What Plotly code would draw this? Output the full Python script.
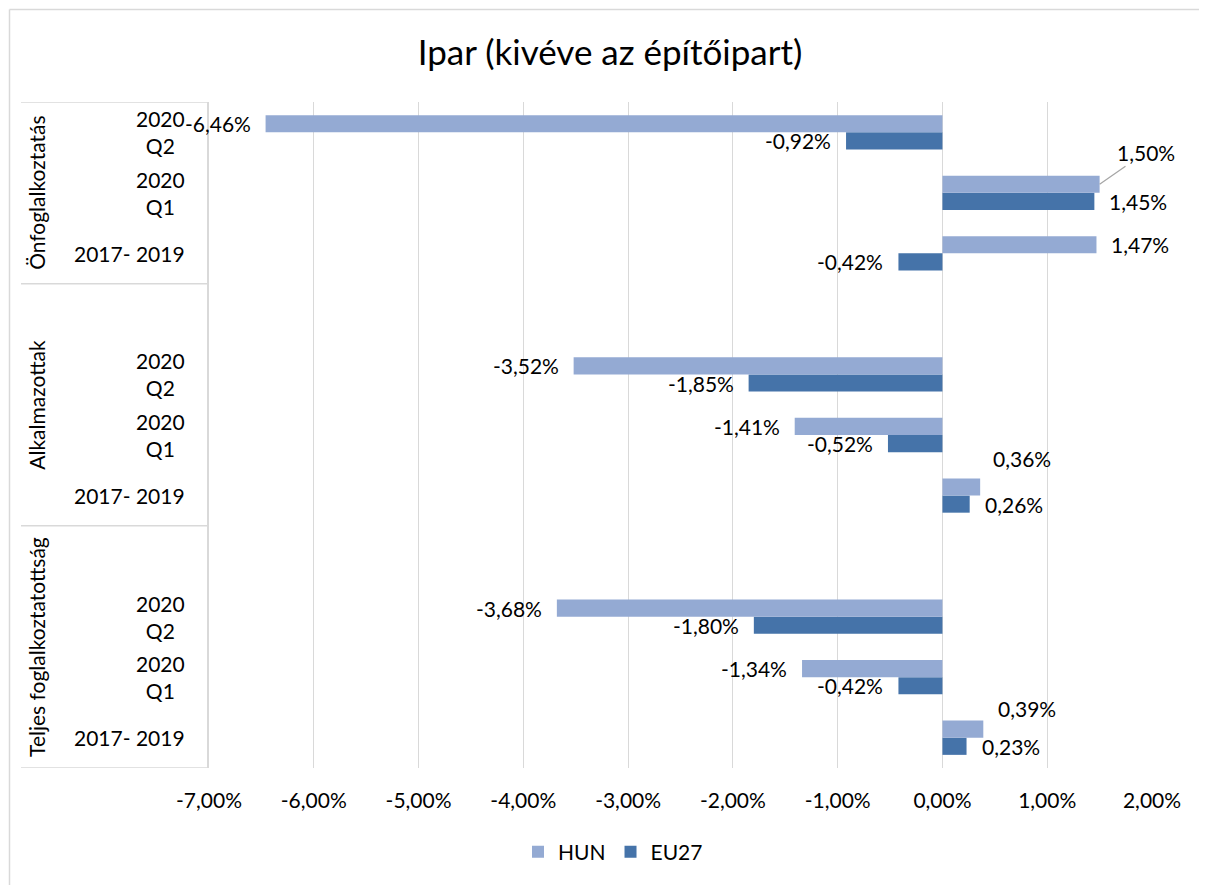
import plotly.graph_objects as go

# ---------------- data ----------------
groups = ["Teljes foglalkoztatottság", "Alkalmazottak", "Önfoglalkoztatás"]
periods = ["2017- 2019", "2020<br>Q1", "2020<br>Q2"]

# values in percent, order per group: 2017-2019, 2020 Q1, 2020 Q2
hun_teljes = [0.39, -1.34, -3.68]
eu_teljes = [0.23, -0.42, -1.80]
hun_alk = [0.36, -1.41, -3.52]
eu_alk = [0.26, -0.52, -1.85]
hun_onf = [1.47, 1.50, -6.46]
eu_onf = [-0.42, 1.45, -0.92]

x_ticks = [-7, -6, -5, -4, -3, -2, -1, 0, 1, 2]
x_ticktext = ["-7,00%", "-6,00%", "-5,00%", "-4,00%", "-3,00%",
              "-2,00%", "-1,00%", "0,00%", "1,00%", "2,00%"]

hun_vals = [hun_teljes, hun_alk, hun_onf]
eu_vals = [eu_teljes, eu_alk, eu_onf]

# ---------------- layout helpers ----------------
OFF = 8                                # page body margin
W, H = 1207 - OFF, 885 - OFF
PL, PR, PT, PB = 209, 1152, 102, 768   # plot area in page px
SLOTS_PER_GROUP = 4                    # 3 periods + 1 spacer
BW = 0.283

def px_x(p):   # page pixel -> paper x
    return (p - PL) / (PR - PL)

def px_y(p):   # page pixel -> paper y
    return (PB - p) / (PB - PT)

# category positions on the y axis
pos = [[g * SLOTS_PER_GROUP + i for i in range(len(periods))] for g in range(len(groups))]
ys = [y for row in pos for y in row]
hun_x = [v for row in hun_vals for v in row]
eu_x = [v for row in eu_vals for v in row]
TOP = len(groups) * SLOTS_PER_GROUP - 1 - 0.5   # upper edge of last slot (index 10)

def fmt(v):
    return f"{v:.2f}%".replace(".", ",")

HUN_C = "#94AAD3"
EU_C = "#4573A9"
FONT = "Lato"
FS = 21
TXT = "#000000"

fig = go.Figure()
fig.add_trace(go.Bar(name="EU27", orientation="h", x=eu_x, y=ys, width=BW, offset=-BW,
                     marker=dict(color=EU_C, line=dict(width=0)), legendrank=2,
                     hoverinfo="x+y"))
fig.add_trace(go.Bar(name="HUN", orientation="h", x=hun_x, y=ys, width=BW, offset=0,
                     marker=dict(color=HUN_C, line=dict(width=0)), legendrank=1,
                     hoverinfo="x+y"))

annotations = []
# special label placements (style, not data)
special = {
    ("HUN", 9): dict(showarrow=True, ax=46, ay=-32, arrowhead=0, arrowwidth=1.3,
                     arrowcolor="#A6A6A6", standoff=0, startstandoff=0),
    ("HUN", 4): dict(xanchor="center", xshift=42, yshift=28),
    ("HUN", 0): dict(xanchor="center", xshift=44, yshift=21),
}
for name, xs, dy in (("HUN", hun_x, BW / 2), ("EU27", eu_x, -BW / 2)):
    for v, y in zip(xs, ys):
        a = dict(x=v, y=y + dy, xref="x", yref="y", text=fmt(v), showarrow=False,
                 font=dict(family=FONT, size=FS, color=TXT),
                 xanchor="right" if v < 0 else "left",
                 xshift=-13 if v < 0 else 13, yshift=0)
        if (name, y) in special:
            a.update(special[(name, y)])
            if a.get("showarrow"):
                a.pop("xanchor"); a.pop("xshift")
        annotations.append(a)

# category labels
for g in range(len(groups)):
    for i, p in enumerate(periods):
        annotations.append(dict(x=px_x(187), y=pos[g][i], xref="paper", yref="y",
                                text=p, showarrow=False, xanchor="right", align="center",
                                font=dict(family=FONT, size=FS, color=TXT)))
    lo = g * SLOTS_PER_GROUP - 0.5
    hi = min(lo + SLOTS_PER_GROUP, TOP)
    annotations.append(dict(x=px_x(37), y=(lo + hi) / 2, xref="paper", yref="y",
                            text=groups[g], showarrow=False, textangle=-90,
                            xanchor="center", yanchor="middle",
                            font=dict(family=FONT, size=FS, color=TXT)))

shapes = []
line_c = "#D9D9D9"
for b in [-0.5, 3.5, 7.5, TOP]:
    shapes.append(dict(type="line", xref="paper", yref="y", x0=px_x(21), x1=0,
                       y0=b, y1=b, line=dict(color=line_c, width=1.5)))
# outer chart frame (left and top edges)
FX, FY = 9.5, 9.5
shapes.append(dict(type="line", xref="paper", yref="paper", x0=px_x(FX), x1=px_x(FX),
                   y0=px_y(FY), y1=px_y(900), line=dict(color=line_c, width=1.5)))
shapes.append(dict(type="line", xref="paper", yref="paper", x0=px_x(FX), x1=px_x(1220),
                   y0=px_y(FY), y1=px_y(FY), line=dict(color=line_c, width=1.5)))

fig.update_layout(
    width=W, height=H,
    margin=dict(l=PL - OFF, r=W + OFF - PR, t=PT - OFF, b=H + OFF - PB),
    paper_bgcolor="white", plot_bgcolor="white",
    barmode="overlay",
    font=dict(family=FONT, size=FS, color=TXT),
    title=dict(text="Ipar (kivéve az építőipart)", x=(610 - OFF) / W, xanchor="center",
               y=1 - (53 - OFF) / H, yanchor="middle",
               font=dict(family=FONT, size=35, color=TXT)),
    xaxis=dict(range=[-7, 2], tickvals=x_ticks, ticktext=x_ticktext,
               showgrid=True, gridcolor=line_c, gridwidth=1.3,
               zeroline=True, zerolinecolor=line_c, zerolinewidth=1.3,
               showline=False, ticks="", ticklabelstandoff=18,
               tickfont=dict(family=FONT, size=FS, color=TXT), fixedrange=True),
    yaxis=dict(range=[-0.5, TOP], showticklabels=False, showgrid=False,
               zeroline=False, showline=True, linecolor=line_c, linewidth=1.5,
               ticks="", fixedrange=True),
    legend=dict(orientation="h", x=px_x(613), xanchor="center", y=px_y(852),
                yanchor="middle", font=dict(family=FONT, size=FS, color=TXT),
                traceorder="normal"),
    annotations=annotations,
    shapes=shapes,
    showlegend=True,
)

fig.write_html("out.html")
